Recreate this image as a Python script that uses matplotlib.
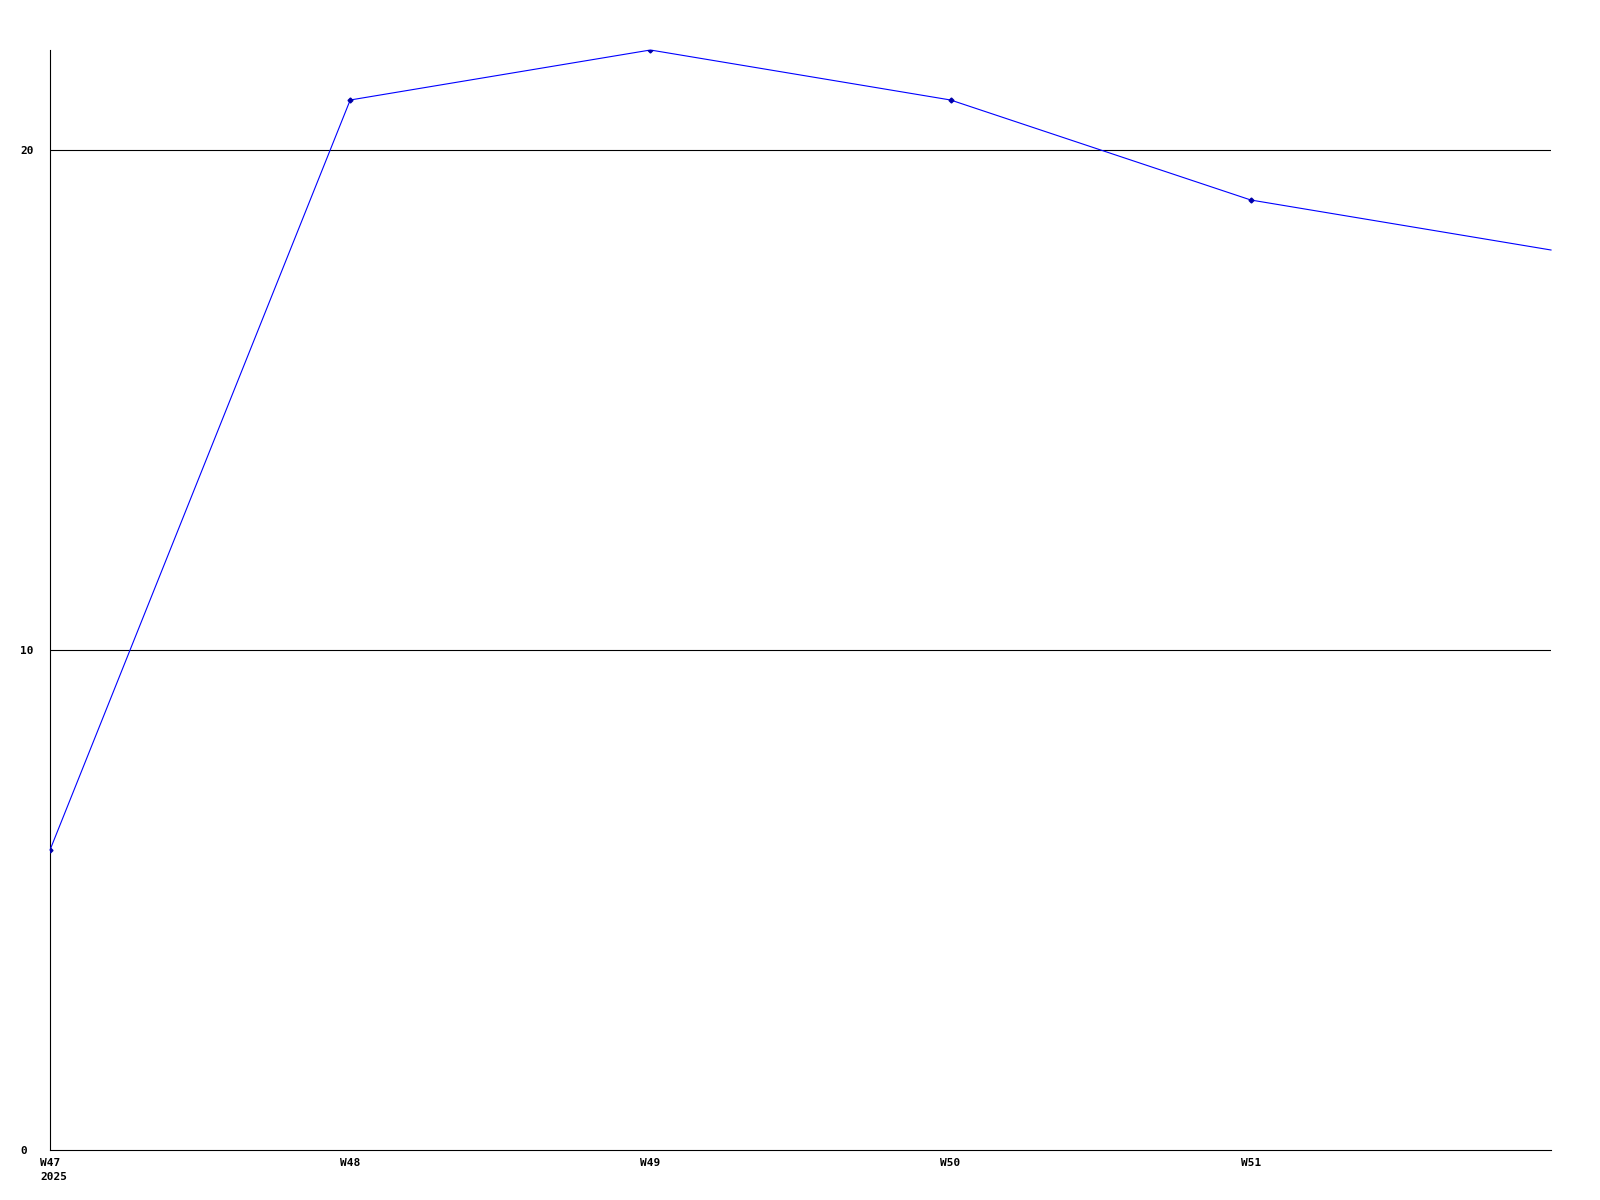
import matplotlib
matplotlib.use("Agg")
import matplotlib.pyplot as plt
import matplotlib.transforms as mtransforms

weeks = ["W47", "W48", "W49", "W50", "W51", "W52"]
tick_labels = ["W47\n2025", "W48", "W49", "W50", "W51"]
values = [6, 21, 22, 21, 19, 18]

fig = plt.figure(figsize=(16, 12), dpi=100)
W, H = 1600, 1200
ax = fig.add_axes([50 / W, 1 - 1150 / H, (1551 - 50) / W, (1150 - 50) / H])

x = list(range(len(weeks)))
ax.set_xlim(0, len(weeks) - 1)
ax.set_ylim(0, 22)

for y in (10, 20):
    ax.axhline(y, color="black", lw=0.8, zorder=1)

ax.plot(x, values, color="#0000ff", lw=0.8, zorder=3, clip_on=False)
ax.plot(x[:-1], values[:-1], ls="none", marker="D", ms=2.5, color="#0000aa", zorder=4)

for s in ("top", "right"):
    ax.spines[s].set_visible(False)
for s in ("left", "bottom"):
    ax.spines[s].set_linewidth(0.8)
    ax.spines[s].set_color("black")

font = dict(family="DejaVu Sans Mono", weight="bold", size=8)
ax.set_xticks(x[:-1])
ax.set_xticklabels(tick_labels, **font)
ax.set_yticks([0, 10, 20])
ax.set_yticklabels(["0", "10", "20"], ha="left", **font)
ax.tick_params(axis="both", length=0)
ax.tick_params(axis="y", pad=21.5)
ax.tick_params(axis="x", pad=5.5)
first = ax.get_xticklabels()[0]
first.set_multialignment("left")
first.set_linespacing(1.5)
first.set_transform(first.get_transform() + mtransforms.ScaledTranslation(3.5 / 100, 0, fig.dpi_scale_trans))

fig.savefig("out.png", dpi=100, facecolor="white")
